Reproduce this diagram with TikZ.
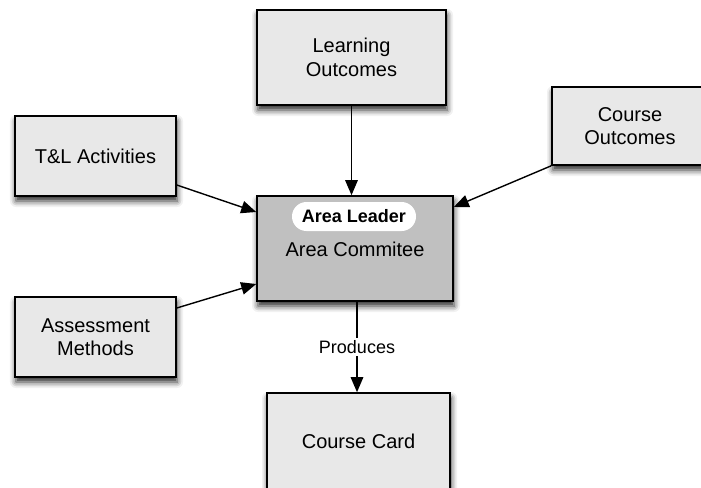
\documentclass[tikz,border=0pt]{standalone}
\usepackage{fontspec}
\setmainfont{Liberation Sans}
\usetikzlibrary{arrows.meta,shadows.blur,calc}
\begin{document}
\begin{tikzpicture}[x=1pt,y=-1pt,
  box/.style={draw=black,line width=1.6pt,fill=boxgray,rectangle,align=center,
    font=\fontsize{20}{23.5}\selectfont,
    blur shadow={shadow xshift=1pt,shadow yshift=-5pt,shadow blur radius=6pt,shadow opacity=85}},
  conn/.style={line width=1.4pt,-{Triangle[length=15pt,width=12.5pt]}},
  lbl/.style={fill=white,inner sep=2pt,font=\fontsize{18}{20}\selectfont}]
\definecolor{boxgray}{HTML}{E8E8E8}
\definecolor{centgray}{HTML}{C0C0C0}
\useasboundingbox (0,0) rectangle (701,487);
\clip (0,0) rectangle (701,487);
\node[box,minimum width=189pt,minimum height=95pt] (lo) at (351.5,57.5) {Learning\\Outcomes};
\node[box,minimum width=161pt,minimum height=80pt] (tl) at (95.5,156) {T\&L Activities};
\node[box,minimum width=161pt,minimum height=80pt] (am) at (95.5,337) {Assessment\\Methods};
\node[box,minimum width=156pt,minimum height=78pt] (co) at (630,126) {Course\\Outcomes};
\node[box,fill=centgray,minimum width=196pt,minimum height=105pt] (cent) at (355,248.5) {};
\node[fill=white,rounded corners=14.5pt,minimum width=124pt,minimum height=29pt,inner sep=0pt,
  font=\fontsize{18}{20}\selectfont\bfseries] (lead) at (354,216.5) {Area Leader};
\node[font=\fontsize{20}{23.5}\selectfont,inner sep=0pt] (ac) at (355,249) {Area Commitee};
\node[box,minimum width=183pt,minimum height=96pt] (card) at (358.5,441) {Course Card};
\draw[conn] (lo.south) -- (lo.south |- cent.north);
\draw[conn] ([yshift=-29pt]tl.east) -- ([yshift=36.5pt]cent.west);
\draw[conn] ([yshift=29pt]am.east) -- ([yshift=-35.5pt]cent.west);
\draw[conn] (co.south west) -- ([yshift=41.5pt]cent.east);
\draw[conn] ([xshift=2pt]cent.south) -- node[lbl] (prod) {Produces} ([xshift=2pt]cent.south |- card.north);
\end{tikzpicture}
\end{document}
